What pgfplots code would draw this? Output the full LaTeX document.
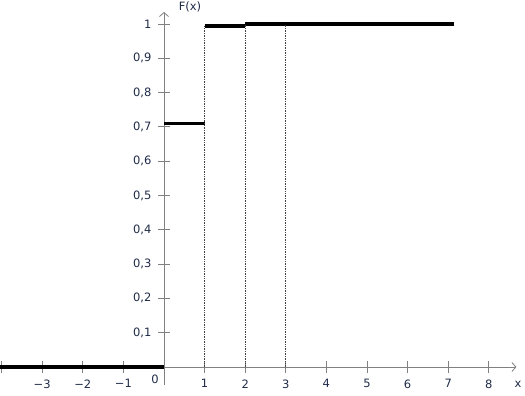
\documentclass[border=0pt]{standalone}
\usepackage{fontspec}
\setmainfont{DejaVu Sans}
\usepackage{pgfplots}
\pgfplotsset{compat=1.18}
\usetikzlibrary{arrows.meta}
\definecolor{lab}{RGB}{31,43,72}
\definecolor{ax}{RGB}{128,128,128}
\begin{document}
\begin{tikzpicture}[font=\fontsize{11.5}{13}\selectfont]
\begin{axis}[
  anchor=origin, at={(0pt,0pt)},
  x=40.6pt, y=343pt,
  xmin=-4.04, xmax=8.68, ymin=-0.053, ymax=1.035,
  axis lines=middle,
  clip=false,
  axis line style={ax, line width=0.8pt, -{Straight Barb[length=4pt,width=9pt]}},
  tick style={ax, line width=0.8pt},
  tick align=center,
  major tick length=12pt,
  xtick={-4,-3,-2,-1,1,2,3,4,5,6,7,8},
  xticklabels={,−3,−2,−1,1,2,3,4,5,6,7,8},
  ytick={0.1,0.2,0.3,0.4,0.5,0.6,0.7,0.8,0.9,1},
  yticklabels={{0,1},{0,2},{0,3},{0,4},{0,5},{0,6},{0,7},{0,8},{0,9},{1}},
  xticklabel style={lab, yshift=-3pt},
  yticklabel style={lab, xshift=-3pt},
]
\addplot[black, line width=3.2pt] coordinates {(-4.04,0) (0,0)};
\addplot[black, line width=3.2pt] coordinates {(0,0.711) (1,0.711)};
\addplot[black, line width=3.2pt] coordinates {(1,0.994) (2,0.994)};
\addplot[black, line width=3.2pt] coordinates {(2,1.0) (7.14,1.0)};
\addplot[densely dotted, black!75, line width=0.7pt] coordinates {(1,0) (1,0.994)};
\addplot[densely dotted, black!75, line width=0.7pt] coordinates {(2,0) (2,1.0)};
\addplot[densely dotted, black!75, line width=0.7pt] coordinates {(3,0) (3,1.0)};
\node[lab] at (axis cs:0.64,1.05) {F(x)};
\node[lab] at (axis cs:8.72,-0.052) {x};
\node[lab] at (axis cs:-0.22,-0.035) {0};
\end{axis}
\pgfresetboundingbox
\path (-164pt,-29pt) rectangle (361pt,367pt);
\end{tikzpicture}
\end{document}
